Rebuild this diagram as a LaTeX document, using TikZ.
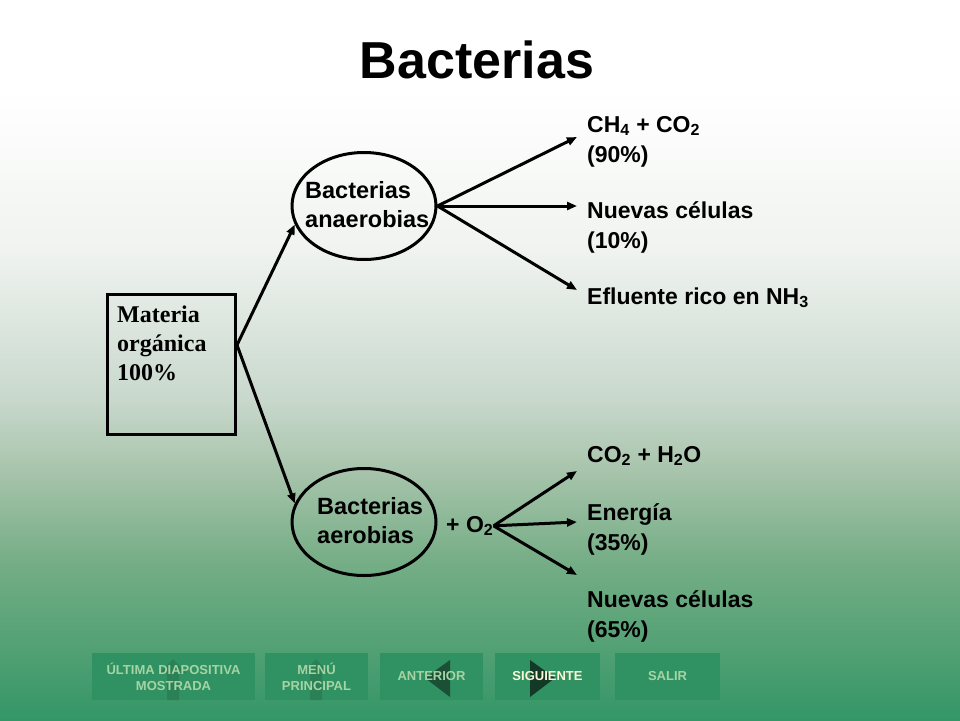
\documentclass[tikz,border=0pt]{standalone}
\usepackage{fontspec}
\setmainfont{Liberation Sans}
\newfontfamily\timesfont{Liberation Serif}
\usetikzlibrary{arrows.meta,shapes.geometric}
\definecolor{bgB}{RGB}{240,243,240}
\definecolor{bgC}{RGB}{200,216,204}
\definecolor{bgD}{RGB}{168,196,172}
\definecolor{bgE}{RGB}{118,174,134}
\definecolor{bgF}{RGB}{52,150,102}
\definecolor{navfill}{RGB}{48,146,98}
\definecolor{navicon}{RGB}{44,128,86}
\definecolor{navtext}{RGB}{165,212,165}
\definecolor{navhot}{RGB}{250,248,215}
\tikzset{
  flow/.style={line width=3pt,-{Triangle[length=10pt,width=8pt]}},
  cell/.style={ellipse,draw,line width=3pt,minimum width=144pt,minimum height=107pt},
  txt/.style={font=\fontsize{23}{30}\selectfont\bfseries,align=left,inner sep=0pt,anchor=base west},
  celltxt/.style={txt,font=\fontsize{23.5}{29}\selectfont\bfseries},
  navbtn/.style={fill=navfill,minimum height=47pt,inner sep=0pt},
  navtxt/.style={font=\fontsize{13}{16}\selectfont\bfseries,text=navtext,align=center}
}
\begin{document}
\begin{tikzpicture}[x=1pt,y=-1pt]
    % background
    \useasboundingbox (0,0) rectangle (960,720);
    \fill[white] (0,0) rectangle (960,90);
    \shade[top color=white,bottom color=bgB] (0,90) rectangle (960,250);
    \shade[top color=bgB,bottom color=bgC] (0,250) rectangle (960,400);
    \shade[top color=bgC,bottom color=bgD] (0,400) rectangle (960,470);
    \shade[top color=bgD,bottom color=bgE] (0,470) rectangle (960,560);
    \shade[top color=bgE,bottom color=bgF] (0,560) rectangle (960,720);

    \node[font=\fontsize{52}{60}\selectfont\bfseries] (title) at (477,60) {Bacterias};

    % boxes (base = last line)
    \node[draw,line width=3pt,minimum width=128pt,minimum height=140pt] (box) at (171,364) {};
    \node[txt,font=\timesfont\fontsize{24}{29}\selectfont\bfseries] (materia) at (117,380) {Materia\\orgánica\\100\%};
    \node[cell] (anaer) at (364,206) {};
    \node[celltxt] (anaertxt) at (305,227) {Bacterias\\anaerobias};
    \node[cell] (aer) at (364,522) {};
    \node[celltxt] (aertxt) at (317,543) {Bacterias\\aerobias};

    % products
    \node[txt] (gas) at (587,162) {CH\textsubscript{4} + CO\textsubscript{2}\\(90\%)};
    \node[txt] (cells) at (587,248) {Nuevas células\\(10\%)};
    \node[txt] (nh3) at (587,304) {Efluente rico en NH\textsubscript{3}};
    \node[txt] (o2) at (446,532) {+ O\textsubscript{2}};
    \node[txt] (water) at (587,462) {CO\textsubscript{2} + H\textsubscript{2}O};
    \node[txt] (energy) at (587,550) {Energía\\(35\%)};
    \node[txt] (newcells) at (587,637) {Nuevas células\\(65\%)};

    % arrows
    \coordinate (fork) at (237,345);
    \coordinate (t1) at (577,137);
    \coordinate (t2) at (577,206);
    \coordinate (t3) at (577,290);
    \coordinate (b1) at (577,471);
    \coordinate (b2) at (577,522);
    \coordinate (b3) at (577,575);
    \draw[flow] (fork) to (anaer.195);
    \draw[flow] (fork) to (aer.165);
    \foreach \t in {t1,t2,t3}
        \draw[flow] (anaer.east) to (\t);
    \foreach \b in {b1,b2,b3}
        \draw[flow] (o2.east) to (\b);

    % navigation bar
    \node[navbtn,minimum width=163pt] (last) at (173.5,676.5) {};
    \node[navbtn,minimum width=103pt] (menu) at (316.5,676.5) {};
    \node[navbtn,minimum width=103pt] (prev) at (431.5,676.5) {};
    \node[navbtn,minimum width=105pt] (next) at (547.5,676.5) {};
    \node[navbtn,minimum width=105pt] (quit) at (667.5,676.5) {};
    \fill[navicon] (160,673) -- (173,659) -- (186,673) -- cycle (167,673) rectangle (179,700);
    \fill[navicon] (303,673) -- (316,659) -- (329,673) -- cycle (310,673) rectangle (322,700);
    \fill[black!45!navfill] (425,678) -- (450,660) -- (450,697) -- cycle;
    \fill[black!60!navfill] (530,660) -- (555,678) -- (530,697) -- cycle;
    \node[navtxt] at (last) {ÚLTIMA DIAPOSITIVA\\MOSTRADA};
    \node[navtxt] at (menu) {MENÚ\\PRINCIPAL};
    \node[navtxt] at (prev) {ANTERIOR};
    \node[navtxt,text=navhot] at (next) {SIGUIENTE};
    \node[navtxt] at (quit) {SALIR};
\end{tikzpicture}
\end{document}
